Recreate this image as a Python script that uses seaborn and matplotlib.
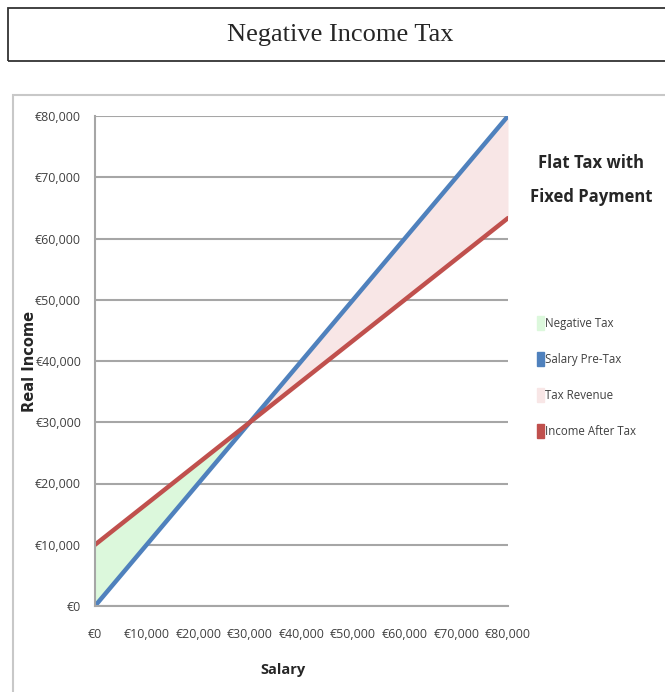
import matplotlib
matplotlib.use("Agg")
import matplotlib.pyplot as plt
import matplotlib.patches as mpatches
import seaborn as sns
import numpy as np
import pandas as pd

salary = [0, 10000, 20000, 30000, 40000, 50000, 60000, 70000, 80000]
pre_tax = [0, 10000, 20000, 30000, 40000, 50000, 60000, 70000, 80000]
after_tax = [10000, 16667, 23333, 30000, 36667, 43333, 50000, 56667, 63333]
ticks = [0, 10000, 20000, 30000, 40000, 50000, 60000, 70000, 80000]
legend_labels = ["Negative Tax", "Salary Pre-Tax", "Tax Revenue", "Income After Tax"]

blue = "#4f81bd"
red = "#c0504d"
green_fill = "#dcf8dc"
pink_fill = "#f8e6e6"
grid_c = "#a6a6a6"

df = pd.DataFrame({"salary": salary, "pre": pre_tax, "after": after_tax})

sns.set_style("white")
plt.rcParams["font.family"] = ["Open Sans", "DejaVu Sans"]

fig = plt.figure(figsize=(6.65, 6.92), dpi=100)
W, H = 665, 692

# title box
fig.patches.append(mpatches.Rectangle((8 / W, 1 - 61 / H), 660 / W, 53 / H,
                                      transform=fig.transFigure, fill=False,
                                      edgecolor="#333333", linewidth=1.3))
fig.text(340 / W, 1 - 35 / H, "Negative Income Tax", ha="center", va="center",
         fontsize=19, family="Liberation Serif")

# chart border
fig.patches.append(mpatches.Rectangle((13 / W, -5 / H), 660 / W, (H - 95 + 5) / H,
                                      transform=fig.transFigure, fill=False,
                                      edgecolor="#c8c8c8", linewidth=1.5))

ax = fig.add_axes([95 / W, 1 - 606 / H, (508 - 95) / W, (606 - 116) / H])

x = np.array(salary)
ax.fill_between(x, df["pre"], df["after"], where=df["after"] >= df["pre"],
                interpolate=True, color=green_fill, linewidth=0)
ax.fill_between(x, df["pre"], df["after"], where=df["after"] <= df["pre"],
                interpolate=True, color=pink_fill, linewidth=0)
sns.lineplot(data=df, x="salary", y="pre", color=blue, linewidth=3.2, ax=ax)
sns.lineplot(data=df, x="salary", y="after", color=red, linewidth=3.2, ax=ax)

ax.set_xlim(0, 80000)
ax.set_ylim(0, 80000)
ax.set_xticks(ticks)
ax.set_yticks(ticks)
fmt = [f"\u20ac{t:,}" for t in ticks]
ax.set_xticklabels(fmt, fontsize=8.9)
ax.set_yticklabels(fmt, fontsize=8.9)
ax.yaxis.grid(True, color=grid_c, linewidth=1.5)
ax.set_axisbelow(True)
for s in ["top", "right"]:
    ax.spines[s].set_visible(False)
for s in ["left", "bottom"]:
    ax.spines[s].set_color(grid_c)
    ax.spines[s].set_linewidth(1.5)
ax.tick_params(axis="both", direction="out", length=4, width=1, color=grid_c,
               labelcolor="#404040", pad=6)
ax.tick_params(axis="x", pad=12)
ax.set_xlabel("Salary", fontsize=10.5, fontweight="bold")
ax.set_ylabel("Real Income", fontsize=10.5, fontweight="bold",
              family="DejaVu Sans")
ax.xaxis.set_label_coords((283 - 95) / 413, -(670 - 606) / 490)
ax.yaxis.set_label_coords((30 - 95) / 413, 0.5)
ax.xaxis.label.set_va("center")
ax.yaxis.label.set_va("center")

fig.text(591 / W, 1 - 180 / H, "Flat Tax with\nFixed Payment", ha="center",
         va="center", fontsize=12, fontweight="bold", linespacing=2.2)

handles = [mpatches.Patch(color=green_fill), mpatches.Patch(color=blue),
           mpatches.Patch(color=pink_fill), mpatches.Patch(color=red)]
fig.legend(handles, legend_labels, loc="upper left",
           bbox_to_anchor=(527 / W, 1 - 306 / H), frameon=False, fontsize=8.3,
           handlelength=0.55, handleheight=1.4, handletextpad=0.15,
           labelspacing=1.95, labelcolor="#404040")

fig.savefig("out.png", dpi=100)
